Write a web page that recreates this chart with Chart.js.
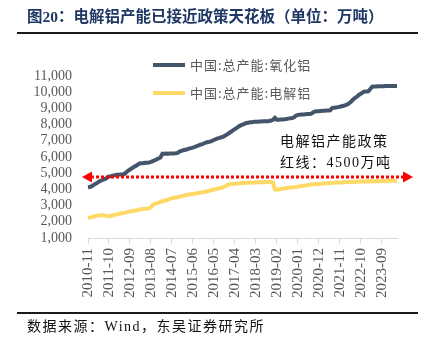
<!DOCTYPE html>
<html><head><meta charset="utf-8">
<script src="https://cdn.jsdelivr.net/npm/chart.js@4.4.1/dist/chart.umd.min.js"></script>
<style>
html,body{margin:0;padding:0;background:#fff;width:430px;height:352px;overflow:hidden}
#wrap{position:relative;width:430px;height:352px}
#c{position:absolute;left:0;top:0}
.title{position:absolute;left:27px;top:7px;font:bold 15.5px "Liberation Serif","Noto Sans CJK SC";color:#1f3864;white-space:nowrap;line-height:20px}
.rule1{position:absolute;left:17px;top:32px;width:401px;height:2px;background:#1a1a1a}
.rule2{position:absolute;left:17px;top:312px;width:401px;height:1.5px;background:#1a1a1a}
.src{position:absolute;left:27px;top:317px;font:14px "Liberation Serif","Noto Sans CJK SC";letter-spacing:1.5px;color:#111;white-space:nowrap;line-height:20px}
.note{position:absolute;left:280px;top:131px;font:14px "Liberation Serif","Noto Sans CJK SC";letter-spacing:1.5px;color:#111;white-space:nowrap;line-height:21px}
</style></head>
<body><div id="wrap">
<canvas id="c" width="430" height="352"></canvas>
<div class="title">图20：电解铝产能已接近政策天花板（单位：万吨）</div>
<div class="rule1"></div>
<div class="note">电解铝产能政策<br>红线：4500万吨</div>
<div class="rule2"></div>
<div class="src">数据来源：Wind，东吴证券研究所</div>
</div>
<script>
const seriesNames = ["中国:总产能:氧化铝", "中国:总产能:电解铝"];
const startYear = 2010, startMonth = 11;
const tickLabels = ["2010-11","2011-10","2012-09","2013-08","2014-07","2015-06","2016-05","2017-04","2018-03","2019-02","2020-01","2020-12","2021-11","2022-10","2023-09"];
const yTicks = [1000,2000,3000,4000,5000,6000,7000,8000,9000,10000,11000];
const policyLineValue = 4780;

const alumina = [
4130,4150,4200,4280,4350,4420,
4500,4550,4600,4650,4720,4800,
4820,4850,4870,4900,4910,4920,
4930,4950,5050,5150,5230,
5300,5380,5450,5520,5600,
5610,5620,5640,5650,5660,
5700,5750,5800,5850,5920,5970,
6200,6200,6210,6200,6210,6220,6220,6230,6250,
6340,6380,6420,6450,6480,6520,6550,6580,
6620,6680,6720,6760,6800,6850,6900,
6920,6950,7000,7050,7100,7150,7180,7220,7260,
7330,7400,7480,7560,7640,7720,7800,
7880,7950,8000,8050,8100,
8120,8140,8150,8170,8180,
8180,8190,8190,8200,8200,8210,8220,8250,8300,
8420,8300,
8300,8310,8320,8330,8350,8370,8390,8400,
8450,8550,8600,
8610,8620,8630,8640,8650,8660,8670,
8750,8810,
8820,8830,8840,8850,8860,8870,8870,8880,
9020,9040,9060,9080,9100,9130,9160,9200,9250,
9320,9420,9550,9650,9720,
9830,9900,9980,10040,10050,
10060,10200,10340,
10350,10350,10360,10360,10370,10370,10380,10380,10380,10390,10390,10390,10390
];
const aluminium = [
2230,2260,2300,2330,2360,2380,
2400,2410,2400,2380,2350,2340,
2360,2400,2430,2460,2490,2510,
2530,2550,2580,2610,2640,2660,
2680,2700,2730,2760,2780,2790,
2800,2810,2830,2900,3050,3100,
3150,3190,3230,3270,3300,3330,
3370,3410,3450,3480,3500,3520,
3550,3580,3610,3640,3660,3690,
3700,3720,3740,3760,3780,3800,
3820,3840,3870,3900,3930,3960,
3990,4020,4050,4070,4100,4150,
4200,4260,4310,4330,4340,4350,
4360,4370,4380,4390,4400,4410,
4410,4420,4420,4420,4430,4430,
4440,4440,4440,4450,4450,4450,4450,4420,
4000,3990,
4000,4020,4040,4060,4080,4100,
4110,4120,4130,4150,4170,4190,
4210,4230,4240,4260,4280,4300,
4310,4320,4330,4340,4350,4360,
4370,4380,4390,4400,4410,4410,
4420,4420,4430,4430,4440,4440,
4450,4450,4460,4460,4470,4470,
4480,4480,4480,4490,4490,4490,
4500,4500,4500,4510,4510,4510,
4520,4520,4520,4530,4530,4530,4540,4540,4540
];

const categories = [];
for (let i = 0; i < alumina.length; i++) {
  const t = (startYear * 12 + startMonth - 1) + i;
  const yy = Math.floor(t / 12), mm = t % 12 + 1;
  categories.push(yy + "-" + String(mm).padStart(2, "0"));
}

const overlay = {
  id: 'overlay',
  afterDatasetsDraw(chart) {
    const {ctx, chartArea, scales: {y}} = chart;
    const py = Math.round(y.getPixelForValue(policyLineValue));
    ctx.save();
    const x0 = chartArea.left - 6, x1 = chartArea.right + 16;
    ctx.strokeStyle = '#ff0000'; ctx.lineWidth = 3; ctx.setLineDash([3, 2]);
    ctx.beginPath(); ctx.moveTo(x0 + 9, py); ctx.lineTo(x1 - 9, py); ctx.stroke();
    ctx.setLineDash([]); ctx.fillStyle = '#ff0000';
    ctx.beginPath(); ctx.moveTo(x0, py); ctx.lineTo(x0 + 10, py - 5.5); ctx.lineTo(x0 + 10, py + 5.5); ctx.closePath(); ctx.fill();
    ctx.beginPath(); ctx.moveTo(x1, py); ctx.lineTo(x1 - 10, py - 5.5); ctx.lineTo(x1 - 10, py + 5.5); ctx.closePath(); ctx.fill();
    chart.data.datasets.forEach((ds, i) => {
      const ly = 65 + i * 28;
      ctx.strokeStyle = ds.borderColor; ctx.lineWidth = 4;
      ctx.beginPath(); ctx.moveTo(153, ly); ctx.lineTo(185, ly); ctx.stroke();
      ctx.fillStyle = '#595959'; ctx.font = '13px "Noto Sans CJK SC"';
      ctx.textBaseline = 'middle'; ctx.textAlign = 'left';
      try { ctx.letterSpacing = '1px'; } catch (e) {}
      ctx.fillText(ds.label, 190, ly);
    });
    ctx.restore();
  }
};

new Chart(document.getElementById('c'), {
  type: 'line',
  data: {
    labels: categories,
    datasets: [
      {label: seriesNames[0], data: alumina, borderColor: '#44546a', borderWidth: 4, pointRadius: 0, tension: 0, fill: false},
      {label: seriesNames[1], data: aluminium, borderColor: '#ffd966', borderWidth: 4, pointRadius: 0, tension: 0, fill: false}
    ]
  },
  options: {
    responsive: false, animation: false,
    layout: {padding: {top: 76, right: 33, bottom: 0, left: 0}},
    plugins: {legend: {display: false}, tooltip: {enabled: false}, title: {display: false}},
    scales: {
      x: {
        ticks: {autoSkip: false, maxRotation: 90, minRotation: 90, padding: 4, color: '#595959', font: {family: 'Liberation Serif', size: 15}},
        grid: {display: true, drawOnChartArea: false, drawTicks: true, tickLength: 6, color: '#d9d9d9'},
        border: {display: true, color: '#d9d9d9', width: 1},
        afterBuildTicks: (axis) => { axis.ticks = axis.ticks.filter(t => tickLabels.includes(categories[t.value])); },
        afterFit: (s) => { s.height = 114; }
      },
      y: {
        min: yTicks[0], max: yTicks[yTicks.length - 1],
        afterBuildTicks: (axis) => { axis.ticks = yTicks.map(v => ({value: v})); },
        ticks: {autoSkip: false, padding: 16, color: '#595959', font: {family: 'Liberation Serif', size: 14},
          callback: (v) => v.toLocaleString('en-US')},
        grid: {display: false, drawTicks: false},
        border: {display: false},
        afterFit: (s) => { s.width = 88; }
      }
    }
  },
  plugins: [overlay]
});
</script>
</body></html>
